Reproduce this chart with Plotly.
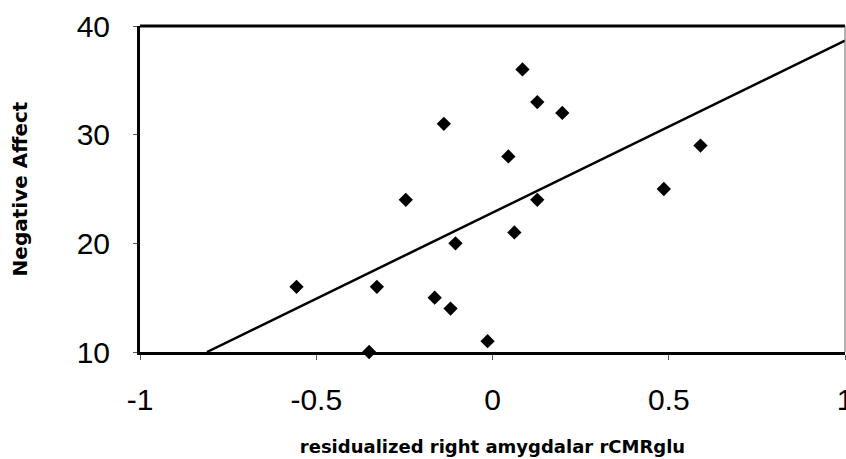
import plotly.graph_objects as go

# Data
amygdala_x = [-0.556, -0.35, -0.328, -0.246, -0.138, -0.164, -0.119, -0.105, -0.014,
              0.045, 0.062, 0.085, 0.127, 0.127, 0.198, 0.486, 0.59]
negative_affect = [16, 10, 16, 24, 31, 15, 14, 20, 11,
                   28, 21, 36, 33, 24, 32, 25, 29]

fit_x = [-0.81, 1.0]
fit_y = [10.0, 38.65]

x_ticks = [-1, -0.5, 0, 0.5, 1]
x_tick_labels = ["-1", "-0.5", "0", "0.5", "1"]
y_ticks = [10, 20, 30, 40]
y_tick_labels = ["10", "20", "30", "40"]

fig = go.Figure()
fig.add_trace(go.Scatter(
    x=fit_x, y=fit_y, mode="lines",
    line=dict(color="black", width=2.5),
    cliponaxis=False, showlegend=False, hoverinfo="skip"))
fig.add_trace(go.Scatter(
    x=amygdala_x, y=negative_affect, mode="markers",
    marker=dict(symbol="diamond", size=11, color="black"),
    cliponaxis=False, showlegend=False))

tick_font = dict(family="Liberation Sans, Arial, sans-serif", size=30, color="black")

fig.update_layout(
    width=846, height=459,
    margin=dict(l=140, r=1, t=26, b=107, autoexpand=False),
    paper_bgcolor="white", plot_bgcolor="white",
    xaxis=dict(
        range=[-1, 1], tickvals=x_ticks, ticktext=x_tick_labels,
        showgrid=False, zeroline=False, automargin=False,
        showline=True, linecolor="black", linewidth=3,
        ticks="outside", ticklen=5, tickwidth=1, tickcolor="#555",
        tickfont=tick_font, ticklabelstandoff=14, ticklabeloverflow="allow",
        title=dict(text="residualized right amygdalar rCMRglu",
                   font=dict(family="DejaVu Sans, sans-serif", size=18, color="black", weight="bold"),
                   standoff=26),
    ),
    yaxis=dict(
        range=[10, 40], tickvals=y_ticks, ticktext=y_tick_labels,
        showgrid=False, zeroline=False, automargin=False,
        showline=True, linecolor="black", linewidth=3,
        ticks="outside", ticklen=4, tickwidth=1, tickcolor="#555",
        tickfont=tick_font, ticklabelstandoff=17,
        title=dict(text="Negative Affect",
                   font=dict(family="DejaVu Sans, sans-serif", size=20, color="black", weight="bold"),
                   standoff=44),
    ),
    shapes=[
        dict(type="line", xref="paper", yref="paper", x0=0, x1=1, y0=1, y1=1,
             line=dict(color="black", width=3)),
        dict(type="line", xref="paper", yref="paper", x0=1, x1=1, y0=0, y1=1,
             line=dict(color="#666", width=1)),
    ],
)

fig.write_html("out.html")
